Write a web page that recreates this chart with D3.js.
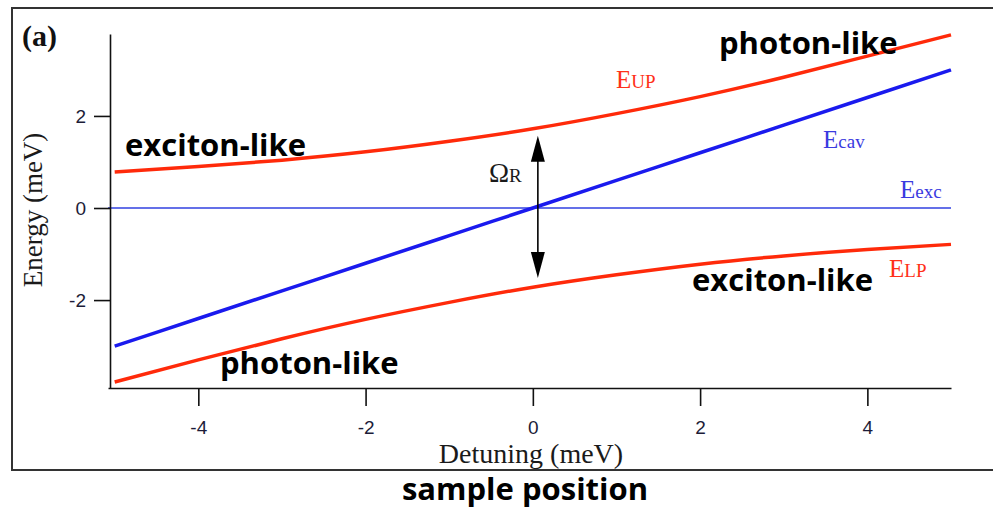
<!DOCTYPE html>
<html>
<head>
<meta charset="utf-8">
<script src="https://cdn.jsdelivr.net/npm/d3@7"></script>
<style>
  body { margin: 0; background: #fff; }
  svg { display: block; }
</style>
</head>
<body>
<svg></svg>
<script>
// values (meV)
var detuning = [-5, -4, -3, -2, -1, 0, 1, 2, 3, 4, 5]
var eCav = [-3.0, -2.4, -1.8, -1.2, -0.6, 0, 0.6, 1.2, 1.8, 2.4, 3.0]
var eUP = [0.78, 0.90, 1.04, 1.22, 1.45, 1.72, 2.05, 2.42, 2.84, 3.30, 3.76]
var eLP = [-3.78, -3.30, -2.84, -2.42, -2.05, -1.72, -1.45, -1.22, -1.04, -0.90, -0.79]
var excDetuning = [-5.08, 5]
var eExc = [0, 0]
var rabiAt = 0.06
var rabiSpan = [-1.52, 1.57]
var xTicks = [-4, -2, 0, 2, 4]
var yTicks = [-2, 0, 2]

var width = 993
var height = 510

var svg = d3.select("svg")
  .attr("width", width)
  .attr("height", height)

var x = d3.scaleLinear().domain([-5.08, 5]).range([108, 951])
var y = d3.scaleLinear().domain([-3.91, 3.78]).range([388, 34])

// outer frame (right side is cut off in the picture)
svg.append("rect")
  .attr("x", 12).attr("y", 8)
  .attr("width", 1000).attr("height", 462)
  .attr("fill", "none")
  .attr("stroke", "#333")
  .attr("stroke-width", 2)

var line = d3.line()
  .x(function (d) { return x(d[0]) })
  .y(function (d) { return y(d[1]) })
  .curve(d3.curveNatural)

function pairs(xs, ys) { return xs.map(function (v, i) { return [v, ys[i]] }) }

// exciton level
svg.append("path")
  .attr("d", line(pairs(excDetuning, eExc)))
  .attr("fill", "none").attr("stroke", "#3040e0").attr("stroke-width", 1.6)

svg.append("path")
  .attr("d", line(pairs(detuning, eCav)))
  .attr("fill", "none").attr("stroke", "#1a1aee").attr("stroke-width", 3.5)

svg.append("path")
  .attr("d", line(pairs(detuning, eUP)))
  .attr("fill", "none").attr("stroke", "#ff2a0a").attr("stroke-width", 3.5)

svg.append("path")
  .attr("d", line(pairs(detuning, eLP)))
  .attr("fill", "none").attr("stroke", "#ff2a0a").attr("stroke-width", 3.5)

// axes
var plain = function (d) { return String(d) }
var xAxis = svg.append("g")
  .attr("transform", "translate(0," + 388 + ")")
  .call(d3.axisBottom(x).tickValues(xTicks).tickFormat(plain).tickSize(18).tickSizeOuter(0).tickPadding(15))
var yAxis = svg.append("g")
  .attr("transform", "translate(" + 110 + ",0)")
  .call(d3.axisLeft(y).tickValues(yTicks).tickFormat(plain).tickSize(16).tickSizeOuter(0).tickPadding(8))

svg.selectAll(".domain, .tick line").attr("stroke", "#111").attr("stroke-width", 1.6)
svg.selectAll(".tick text")
  .style("font-family", "'Liberation Sans', Arial, sans-serif")
  .style("font-size", "19px")
  .attr("fill", "#1c1c38")
yAxis.selectAll(".tick text").attr("dy", "0.35em")

// axis titles
var serif = "'Liberation Serif', 'Times New Roman', serif"
svg.append("text")
  .attr("x", 531).attr("y", 463)
  .attr("text-anchor", "middle")
  .style("font-family", serif)
  .style("font-size", "28px")
  .attr("fill", "#1a1a1a")
  .text("Detuning (meV)")

svg.append("text")
  .attr("transform", "translate(42,210) rotate(-90)")
  .attr("text-anchor", "middle")
  .style("font-family", serif)
  .style("font-size", "27px")
  .attr("fill", "#1a1a1a")
  .text("Energy (meV)")

svg.append("text")
  .attr("x", 22).attr("y", 46)
  .style("font-family", serif)
  .style("font-size", "30px")
  .style("font-weight", "bold")
  .attr("fill", "#111")
  .text("(a)")

// Rabi splitting arrow
var ax = x(rabiAt)
svg.append("line")
  .attr("x1", ax).attr("x2", ax)
  .attr("y1", y(rabiSpan[1]) + 10).attr("y2", y(rabiSpan[0]) - 10)
  .attr("stroke", "#000").attr("stroke-width", 1.6)
svg.append("path")
  .attr("d", "M" + ax + "," + y(rabiSpan[1]) + " l-7,26 l14,0 z")
  .attr("fill", "#000")
svg.append("path")
  .attr("d", "M" + ax + "," + y(rabiSpan[0]) + " l-7,-26 l14,0 z")
  .attr("fill", "#000")

var omega = svg.append("text")
  .attr("x", 489).attr("y", 182)
  .style("font-family", serif)
  .attr("fill", "#1a1a1a")
omega.append("tspan").style("font-size", "27px").text("Ω")
omega.append("tspan").style("font-size", "19px").text("R")

// curve labels
function subLabel(px, py, main, sub, color) {
  var t = svg.append("text")
    .attr("x", px).attr("y", py)
    .style("font-family", serif)
    .attr("fill", color)
  t.append("tspan").style("font-size", "25px").text(main)
  t.append("tspan").style("font-size", "19px").text(sub)
}
subLabel(616, 88, "E", "UP", "#ff3018")
subLabel(823, 148, "E", "cav", "#3a3ae0")
subLabel(900, 198, "E", "exc", "#3a3ae0")
subLabel(889, 277, "E", "LP", "#ff3018")

function boldLabel(px, py, s, anchor) {
  svg.append("text")
    .attr("x", px).attr("y", py)
    .attr("text-anchor", anchor || "start")
    .style("font-family", "'Open Sans', Lato, sans-serif")
    .style("font-size", "31px")
    .style("font-weight", "bold")
    .attr("fill", "#000")
    .text(s)
}
boldLabel(719, 54, "photon-like")
boldLabel(125, 156, "exciton-like")
boldLabel(692, 291, "exciton-like")
boldLabel(220, 374, "photon-like")
boldLabel(525, 500, "sample position", "middle")
</script>
</body>
</html>
